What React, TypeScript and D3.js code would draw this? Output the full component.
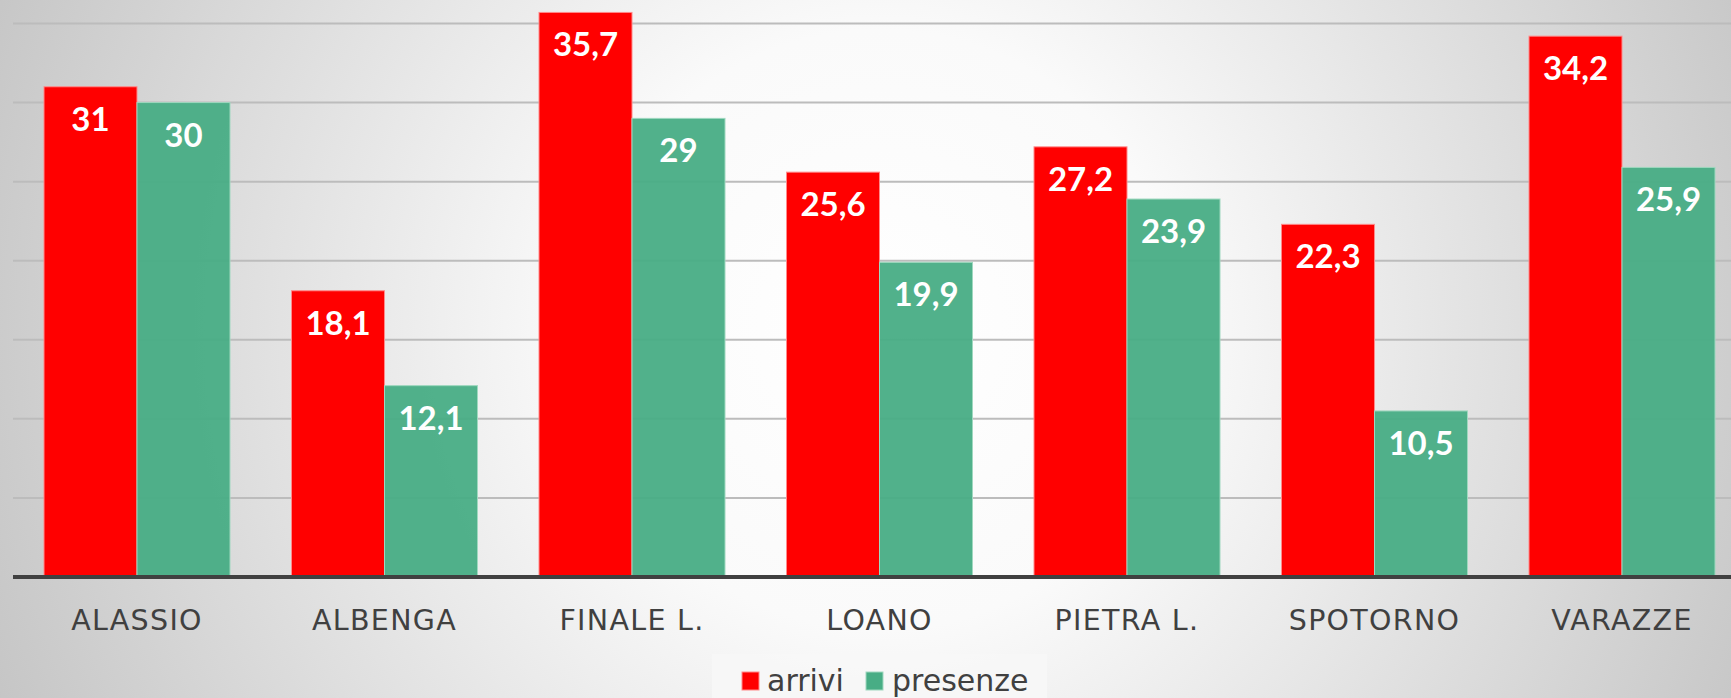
import React from "react";
import * as d3 from "d3";

const categories = ["ALASSIO", "ALBENGA", "FINALE L.", "LOANO", "PIETRA L.", "SPOTORNO", "VARAZZE"];
const arrivi = [31, 18.1, 35.7, 25.6, 27.2, 22.3, 34.2];
const presenze = [30, 12.1, 29, 19.9, 23.9, 10.5, 25.9];
const seriesNames = ["arrivi", "presenze"];
const gridTicks = [5, 10, 15, 20, 25, 30, 35];

const W = 1731;
const H = 698;
const RED = "#ff0000";
const GREEN = "#48ad85";

export default function App() {
  const x0 = d3.scaleBand<string>().domain(categories).range([13.25, 1745.75]).padding(0);
  const step = x0.bandwidth();
  const gap = 61.5;
  const x1 = d3.scaleBand<string>().domain(seriesNames).range([gap / 2, step - gap / 2]).padding(0);
  const y = d3.scaleLinear().domain([0, 35]).range([577, 23.5]);
  const fmt = (v: number) => String(v).replace(".", ",");
  const seriesData = [arrivi, presenze];
  const colors = [RED, GREEN];
  const strokes = ["#ff8a8a", "#9fd8bf"];

  return (
    <svg width={W} height={H} style={{ position: "absolute", left: 0, top: 0 }}>
      <defs>
        <radialGradient id="bg" cx="880" cy="330" r="1000" gradientUnits="userSpaceOnUse">
          <stop offset="0" stopColor="#ffffff" />
          <stop offset="0.3" stopColor="#fafafa" />
          <stop offset="1" stopColor="#c2c2c2" />
        </radialGradient>
      </defs>
      <rect x={0} y={0} width={W} height={H} fill="url(#bg)" />
      {gridTicks.map((t) => (
        <line key={t} x1={13} x2={W} y1={y(t)} y2={y(t)} stroke="#bcbcbc" strokeWidth={2} />
      ))}
      {categories.map((c, i) => (
        <g key={c} transform={`translate(${x0(c)},0)`}>
          {seriesData.map((s, j) => {
            const v = s[i];
            const bx = x1(seriesNames[j])!;
            const bw = x1.bandwidth();
            return (
              <g key={j}>
                <rect
                  x={bx}
                  y={y(v)}
                  width={bw}
                  height={y(0) - y(v)}
                  fill={colors[j]}
                  fillOpacity={j === 1 ? 0.95 : 1}
                  stroke={strokes[j]}
                  strokeWidth={1}
                />
                <text
                  x={bx + bw / 2}
                  y={y(v) + 44}
                  textAnchor="middle"
                  fill="#ffffff"
                  fontFamily="Lato, 'DejaVu Sans', sans-serif"
                  fontWeight="bold"
                  fontSize={33}
                >
                  {fmt(v)}
                </text>
              </g>
            );
          })}
          <text
            x={step / 2}
            y={630}
            textAnchor="middle"
            fill="#404040"
            fontFamily="'DejaVu Sans', sans-serif"
            fontSize={28.5}
            letterSpacing={1.3}
          >
            {c}
          </text>
        </g>
      ))}
      <line x1={13} x2={W} y1={577} y2={577} stroke="#404040" strokeWidth={4} />
      <rect x={712} y={654} width={335} height={50} fill="#f7f7f7" fillOpacity={0.8} />
      <rect x={742} y={672} width={17} height={18} fill={RED} stroke="#ff8a8a" strokeWidth={1} />
      <text x={767} y={691} fill="#404040" fontFamily="'DejaVu Sans', sans-serif" fontSize={30}>
        {seriesNames[0]}
      </text>
      <rect x={866} y={672} width={17} height={18} fill={GREEN} stroke="#9fd8bf" strokeWidth={1} />
      <text x={892} y={691} fill="#404040" fontFamily="'DejaVu Sans', sans-serif" fontSize={30}>
        {seriesNames[1]}
      </text>
    </svg>
  );
}
